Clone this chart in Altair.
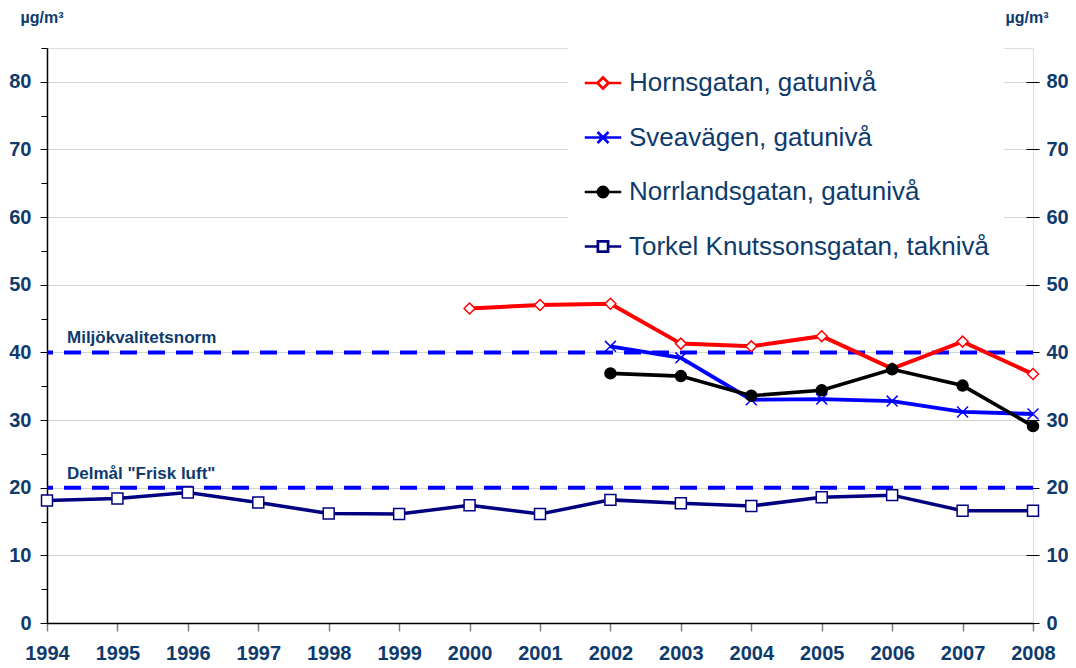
import altair as alt
import pandas as pd

NAVY_TEXT = "#0E3A6C"
FONT = "Liberation Sans"

series_names = [
    "Hornsgatan, gatunivå",
    "Sveavägen, gatunivå",
    "Norrlandsgatan, gatunivå",
    "Torkel Knutssonsgatan, taknivå",
]
line_colors = ["#FF0000", "#0000FF", "#000000", "#000080"]
line_widths = [4, 3.5, 3.5, 2]
marker_fills = ["#FFFFFF", "transparent", "#000000", "#FFFFFF"]
marker_shapes = ["diamond", "M-1,-1L1,1M-1,1L1,-1", "circle", "square"]
legend_paths = [
    "M-1,0H-0.3M0.3,0H1M0,-0.3L0.3,0L0,0.3L-0.3,0Z",
    "M-1,0H1M-0.3,-0.3L0.3,0.3M-0.3,0.3L0.3,-0.3",
    "M-1,0H1M0.28,0A0.28,0.28 0 1,1 -0.28,0A0.28,0.28 0 1,1 0.28,0Z",
    "M-1,0H-0.28M0.28,0H1M-0.28,-0.28H0.28V0.28H-0.28Z",
]

horn_years = [2000, 2001, 2002, 2003, 2004, 2005, 2006, 2007, 2008]
horn_values = [46.5, 47.0, 47.2, 41.3, 40.9, 42.4, 37.6, 41.6, 36.8]
svea_years = [2002, 2003, 2004, 2005, 2006, 2007, 2008]
svea_values = [40.9, 39.2, 33.0, 33.1, 32.8, 31.2, 30.9]
norr_years = [2002, 2003, 2004, 2005, 2006, 2007, 2008]
norr_values = [36.9, 36.5, 33.6, 34.4, 37.5, 35.1, 29.1]
torkel_years = [1994, 1995, 1996, 1997, 1998, 1999, 2000, 2001,
                2002, 2003, 2004, 2005, 2006, 2007, 2008]
torkel_values = [18.1, 18.4, 19.3, 17.8, 16.2, 16.1, 17.4, 16.1,
                 18.2, 17.7, 17.3, 18.6, 18.9, 16.6, 16.6]

threshold_values = [40, 20]
threshold_labels = ["Miljökvalitetsnorm", 'Delmål "Frisk luft"']
threshold_years = [1994, 1994]

x_ticks = list(range(1994, 2009))
y_major = [0, 10, 20, 30, 40, 50, 60, 70, 80]
y_minor = [5, 15, 25, 35, 45, 55, 65, 75, 85]
unit_label = "µg/m³"

rows = []
for name, yrs, vals in zip(series_names,
                           [horn_years, svea_years, norr_years, torkel_years],
                           [horn_values, svea_values, norr_values, torkel_values]):
    for yr, v in zip(yrs, vals):
        rows.append({"series": name, "year": yr, "value": v})
df = pd.DataFrame(rows)

thr = pd.DataFrame({"value": threshold_values, "label": threshold_labels,
                    "year": threshold_years})

y_scale = alt.Scale(domain=[0, 85], nice=False, zero=True)
x_scale = alt.Scale(domain=[1994, 2008], nice=False)

x_axis = alt.Axis(orient="bottom", values=x_ticks, format="d", title=None, tickSize=8,
                  tickColor="#7F7F7F", tickWidth=1.5, labelFontSize=20,
                  labelFontWeight="bold", labelColor=NAVY_TEXT, labelFont=FONT,
                  labelPadding=12, domainColor="black", domainWidth=1.5,
                  grid=False, labelFlush=False)

left_axis = alt.Axis(orient="left", values=y_major, tickSize=7, tickColor="black",
                     tickWidth=1, domainColor="black", domainWidth=1.5,
                     grid=True, gridColor="#D3D3D3", gridWidth=1,
                     labelFontSize=20, labelFontWeight="bold", labelColor=NAVY_TEXT,
                     labelFont=FONT, labelPadding=9,
                     title=unit_label, titleAngle=0, titleAlign="left",
                     titleBaseline="alphabetic", titleX=-27, titleY=-26,
                     titleFontSize=16, titleFontWeight="bold", titleColor=NAVY_TEXT,
                     titleFont=FONT)

left_minor_axis = alt.Axis(orient="left", values=y_minor, tickSize=6,
                           tickColor="black", tickWidth=1, labels=False,
                           domain=False, grid=False, title=None)

right_axis = alt.Axis(orient="right", values=y_major, offset=-7, tickSize=13,
                      tickColor="black", tickWidth=1, domain=False, grid=False,
                      labelFontSize=20, labelFontWeight="bold", labelColor=NAVY_TEXT,
                      labelFont=FONT, labelPadding=7,
                      title=unit_label, titleAngle=0, titleAlign="left",
                      titleBaseline="alphabetic", titleX=-21, titleY=-26,
                      titleFontSize=16, titleFontWeight="bold", titleColor=NAVY_TEXT,
                      titleFont=FONT)

x_enc = alt.X("year:Q", scale=x_scale, axis=x_axis)

rules = alt.Chart(thr).mark_rule(color="#0000FF", strokeWidth=4,
                                 strokeDash=[17, 11]).encode(
    y=alt.Y("value:Q", scale=y_scale, axis=left_axis)
)

rule_text = alt.Chart(thr).mark_text(align="left", baseline="alphabetic",
                                     dx=20, dy=-9, fontWeight="bold", fontSize=17,
                                     font=FONT, color=NAVY_TEXT).encode(
    x=x_enc,
    y=alt.Y("value:Q", scale=y_scale, axis=None),
    text="label:N",
)

lines = alt.Chart(df).mark_line().encode(
    x=x_enc,
    y=alt.Y("value:Q", scale=y_scale, axis=right_axis),
    color=alt.Color("series:N", scale=alt.Scale(domain=series_names, range=line_colors),
                    legend=None),
    strokeWidth=alt.StrokeWidth("series:N",
                                scale=alt.Scale(domain=series_names, range=line_widths),
                                legend=None),
)

points = alt.Chart(df).mark_point(filled=False, opacity=1, strokeWidth=1.5,
                                  size=120).encode(
    x=x_enc,
    y=alt.Y("value:Q", scale=y_scale, axis=left_minor_axis),
    shape=alt.Shape("series:N", scale=alt.Scale(domain=series_names, range=marker_shapes),
                    legend=None),
    stroke=alt.Stroke("series:N", scale=alt.Scale(domain=series_names, range=line_colors),
                      legend=None),
    fill=alt.Fill("series:N", scale=alt.Scale(domain=series_names, range=marker_fills),
                  legend=None),
)

legend_cfg = dict(title=None, orient="none", legendX=521, legendY=0, padding=15,
                  fillColor="white", labelFontSize=26, labelFont=FONT,
                  labelColor=NAVY_TEXT, labelLimit=0, symbolSize=1330,
                  symbolStrokeWidth=2.7, rowPadding=21.5, labelOffset=6,
                  labelExpr="datum.label + '\u00a0\u00a0\u00a0\u00a0\u00a0'")

legend_layer = alt.Chart(df).mark_point(filled=False, opacity=1).encode(
    x=x_enc,
    y=alt.Y("value:Q", scale=y_scale, axis=None),
    shape=alt.Shape("series:N", scale=alt.Scale(domain=series_names, range=legend_paths),
                    legend=alt.Legend(**legend_cfg)),
    stroke=alt.Stroke("series:N", scale=alt.Scale(domain=series_names, range=line_colors),
                      legend=alt.Legend(**legend_cfg)),
    fill=alt.Fill("series:N", scale=alt.Scale(domain=series_names, range=marker_fills),
                  legend=alt.Legend(**legend_cfg)),
).transform_filter("false")

chart = alt.layer(rules, rule_text, lines, points, legend_layer).resolve_scale(
    shape="independent", stroke="independent", fill="independent"
).resolve_axis(y="independent", x="shared").properties(
    width=986, height=575,
    padding={"left": 39, "top": 40, "right": 35, "bottom": 44},
    autosize=alt.AutoSizeParams(type="none"),
).configure_view(stroke="black", strokeWidth=1.5).configure(font=FONT)

chart.save("out.html", embed_options={"renderer": "svg", "actions": False})
